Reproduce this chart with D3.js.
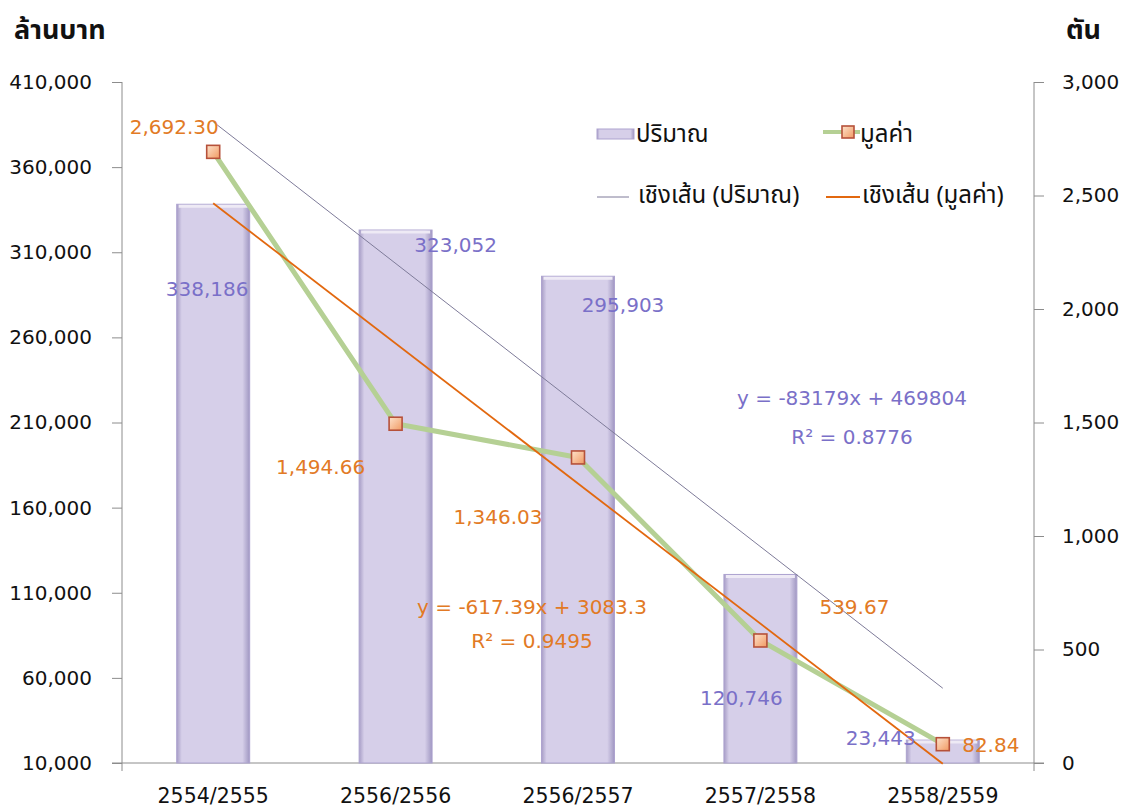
<!DOCTYPE html>
<html><head><meta charset="utf-8">
<script src="https://cdn.jsdelivr.net/npm/d3@7"></script>
<style>
body{margin:0;background:#fff;}
text{font-family:"DejaVu Sans",Verdana,sans-serif;}
.thai{font-family:"Noto Sans Thai","Noto Sans","Leelawadee UI",sans-serif;}
</style></head>
<body>
<svg id="c" width="1128" height="810"></svg>
<script>
const categories = ["2554/2555","2556/2556","2556/2557","2557/2558","2558/2559"];
const volumeValues = [338186, 323052, 295903, 120746, 23443];
const valueValues = [2692.30, 1494.66, 1346.03, 539.67, 82.84];
const leftTicks = [10000,60000,110000,160000,210000,260000,310000,360000,410000];
const rightTicks = [0,500,1000,1500,2000,2500,3000];
const volumeLabels = ["338,186","323,052","295,903","120,746","23,443"];
const valueLabels = ["2,692.30","1,494.66","1,346.03","539.67","82.84"];
const volTrend = {slope:-83179, intercept:469804, eq:"y = -83179x + 469804", r2:"R² = 0.8776"};
const valTrend = {slope:-617.39, intercept:3083.3, eq:"y = -617.39x + 3083.3", r2:"R² = 0.9495"};
const legendNames = ["ปริมาณ","มูลค่า","เชิงเส้น (ปริมาณ)","เชิงเส้น (มูลค่า)"];

const svg = d3.select("#c");
const L = 122, R = 1034, T = 82, B = 763;
const x = d3.scaleBand().domain(categories).range([L, R]);
const yL = d3.scaleLinear().domain([10000, 410000]).range([B, T]);
const yR = d3.scaleLinear().domain([0, 3000]).range([B, T]);
const xi = i => x(categories[i]) + x.bandwidth()/2;

const defs = svg.append("defs");
const bg = defs.append("linearGradient").attr("id","barG").attr("x1","0").attr("x2","1").attr("y1","0").attr("y2","0");
bg.append("stop").attr("offset","0").attr("stop-color","#a79dc6");
bg.append("stop").attr("offset","0.07").attr("stop-color","#d6cfe9");
bg.append("stop").attr("offset","0.9").attr("stop-color","#d6cfe9");
bg.append("stop").attr("offset","1").attr("stop-color","#a097c2");
const mg = defs.append("linearGradient").attr("id","mkG").attr("x1","0").attr("x2","1").attr("y1","0").attr("y2","1");
mg.append("stop").attr("offset","0").attr("stop-color","#fde2cc");
mg.append("stop").attr("offset","1").attr("stop-color","#f19a62");

// Titles
svg.append("text").attr("class","thai").attr("x",14).attr("y",39).attr("font-size",27).attr("font-weight","bold").attr("fill","#111").text("ล้านบาท");
svg.append("text").attr("class","thai").attr("x",1101).attr("y",39).attr("text-anchor","end").attr("font-size",27).attr("font-weight","bold").attr("fill","#111").text("ตัน");

// Axes
const axL = svg.append("g").attr("transform",`translate(${L},0)`)
  .call(d3.axisLeft(yL).tickValues(leftTicks).tickFormat(d3.format(",")).tickSize(10).tickPadding(20));
const axR = svg.append("g").attr("transform",`translate(${R},0)`)
  .call(d3.axisRight(yR).tickValues(rightTicks).tickFormat(d3.format(",")).tickSize(10).tickPadding(18));
[axL, axR].forEach(a=>{
  a.select(".domain").attr("stroke","#8c8c8c").attr("d", `M0,${T}V${B+8}`);
  a.selectAll(".tick line").attr("stroke","#8c8c8c");
  a.selectAll("text").attr("font-size",20).attr("fill","#111").attr("font-family","DejaVu Sans, Verdana, sans-serif");
});
svg.append("line").attr("x1",L-10).attr("x2",R+10).attr("y1",B).attr("y2",B).attr("stroke","#8c8c8c");
const axB = svg.append("g").attr("transform",`translate(0,${B})`).call(d3.axisBottom(x).tickSize(0).tickPadding(25));
axB.select(".domain").remove();
axB.selectAll("text").attr("font-size",20.5).attr("fill","#111").attr("font-family","DejaVu Sans, Verdana, sans-serif");

// Bars
const bw = x.bandwidth()*0.4;
svg.append("g").selectAll("rect").data(volumeValues).join("rect")
  .attr("x",(d,i)=>xi(i)-bw/2).attr("width",bw)
  .attr("y",d=>yL(d)).attr("height",d=>B-yL(d))
  .attr("fill","url(#barG)").attr("stroke","#ada3cf").attr("stroke-width",1);
svg.append("g").selectAll("line").data(volumeValues).join("line")
  .attr("x1",(d,i)=>xi(i)-bw/2+2).attr("x2",(d,i)=>xi(i)+bw/2-2)
  .attr("y1",d=>yL(d)+2).attr("y2",d=>yL(d)+2).attr("stroke","#eeeaf5").attr("stroke-width",3);

// Trend lines
const tline = (t, ys) => [[xi(0), ys(t.slope*1+t.intercept)],[xi(4), ys(t.slope*5+t.intercept)]];
svg.append("path").attr("d", d3.line()(tline(volTrend, yL))).attr("stroke","#7e7b99").attr("stroke-width",1).attr("fill","none");

// Value line
svg.append("path").datum(valueValues).attr("d", d3.line().x((d,i)=>xi(i)).y(d=>yR(d)))
  .attr("stroke","#b5d094").attr("stroke-width",5).attr("fill","none").attr("stroke-linejoin","round");
svg.append("path").attr("d", d3.line()(tline(valTrend, yR))).attr("stroke","#e2680f").attr("stroke-width",1.8).attr("fill","none");
svg.append("g").selectAll("rect").data(valueValues).join("rect")
  .attr("x",(d,i)=>xi(i)-6.5).attr("y",d=>yR(d)-6.5).attr("width",13).attr("height",13)
  .attr("fill","url(#mkG)").attr("stroke","#b6513a").attr("stroke-width",1.6);

// Data labels (offsets from the mark, in pixels)
const volPos = [[-6,85],[60,15],[45,29],[-19,124],[-62,-2]];
svg.append("g").selectAll("text").data(volumeLabels).join("text")
  .attr("x",(d,i)=>xi(i)+volPos[i][0]).attr("y",(d,i)=>yL(volumeValues[i])+volPos[i][1]+7)
  .attr("text-anchor","middle").attr("font-size",20).attr("fill","#7a70c8").text(d=>d);
const valPos = [[-39,-25],[-75,43],[-80,60],[94,-33],[48,1]];
svg.append("g").selectAll("text").data(valueLabels).join("text")
  .attr("x",(d,i)=>xi(i)+valPos[i][0]).attr("y",(d,i)=>yR(valueValues[i])+valPos[i][1]+7)
  .attr("text-anchor","middle").attr("font-size",20).attr("fill","#e27a25").text(d=>d);

// Equations
svg.append("text").attr("x",852).attr("y",405).attr("text-anchor","middle").attr("font-size",20).attr("fill","#7a70c8").text(volTrend.eq);
svg.append("text").attr("x",852).attr("y",444).attr("text-anchor","middle").attr("font-size",20).attr("fill","#7a70c8").text(volTrend.r2);
svg.append("text").attr("x",532).attr("y",614).attr("text-anchor","middle").attr("font-size",20).attr("fill","#e27a25").text(valTrend.eq);
svg.append("text").attr("x",532).attr("y",648).attr("text-anchor","middle").attr("font-size",20).attr("fill","#e27a25").text(valTrend.r2);

// Legend
const lg = svg.append("g");
lg.append("rect").attr("x",597).attr("y",129).attr("width",37).attr("height",10).attr("fill","url(#barG)").attr("stroke","#ada3cf");
lg.append("text").attr("class","thai").attr("x",636).attr("y",142).attr("font-size",24).attr("fill","#111").text(legendNames[0]);
lg.append("line").attr("x1",823).attr("x2",860).attr("y1",132).attr("y2",132).attr("stroke","#b5d094").attr("stroke-width",4);
lg.append("rect").attr("x",842).attr("y",126).attr("width",12).attr("height",12).attr("fill","url(#mkG)").attr("stroke","#b6513a").attr("stroke-width",1.6);
lg.append("text").attr("class","thai").attr("x",860).attr("y",142).attr("font-size",24).attr("fill","#111").text(legendNames[1]);
lg.append("line").attr("x1",597).attr("x2",629).attr("y1",197).attr("y2",197).attr("stroke","#7e7b99").attr("stroke-width",1);
lg.append("text").attr("class","thai").attr("x",638).attr("y",203).attr("font-size",24).attr("fill","#111").text(legendNames[2]);
lg.append("line").attr("x1",826).attr("x2",860).attr("y1",197).attr("y2",197).attr("stroke","#e2680f").attr("stroke-width",1.8);
lg.append("text").attr("class","thai").attr("x",862).attr("y",203).attr("font-size",24).attr("fill","#111").text(legendNames[3]);
</script>
</body></html>
